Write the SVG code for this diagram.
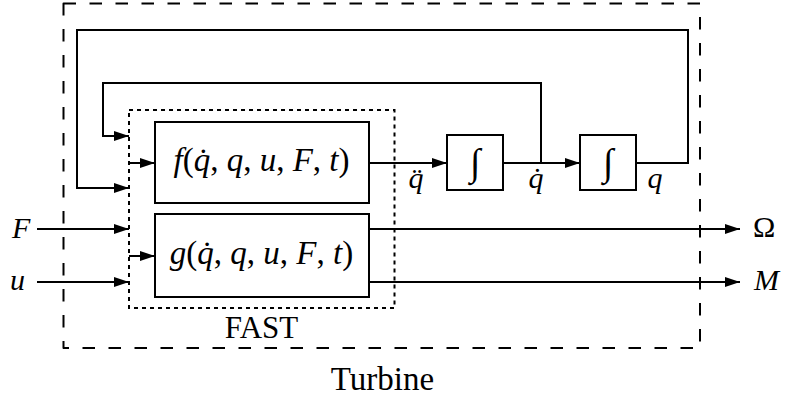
<svg xmlns="http://www.w3.org/2000/svg" width="787" height="399" viewBox="0 0 787 399">
<defs>
<marker id="arr" markerUnits="userSpaceOnUse" markerWidth="16" markerHeight="12" refX="15" refY="5" orient="auto">
<path d="M0,0 L15,5 L0,10 z" fill="#000" stroke="none"/>
</marker>
</defs>
<g fill="none" stroke="#000" stroke-width="2">
<rect id="turbine" x="63.5" y="3.5" width="636.5" height="344.5" stroke-dasharray="12.5 13.5" stroke-linejoin="round"/>
<rect id="fast" x="129" y="110" width="265.5" height="198" stroke-dasharray="4 4"/>
</g>
<g id="connectors" fill="none" stroke="#000" stroke-width="2" marker-end="url(#arr)">
<path d="M369,163 H447"/>
<path d="M503,163 H580"/>
<path d="M636,163 H688 V30 H77 V188 H129"/>
<path d="M541,163 V83 H103 V136 H129"/>
<path d="M129,163 H155"/>
<path d="M37,229 H129"/>
<path d="M37,282 H129"/>
<path d="M129,256 H155"/>
<path d="M369,229 H740"/>
<path d="M369,282 H740"/>
</g>
<g font-family="Liberation Serif" font-size="30" fill="#000">
<g id="f">
<rect x="155" y="122" width="214" height="81" fill="#fff" stroke="#000" stroke-width="2"/>
<text text-anchor="middle" font-size="33" x="261.5" y="171"><tspan font-style="italic">f</tspan>(<tspan font-style="italic">q̇</tspan>, <tspan font-style="italic">q</tspan>, <tspan font-style="italic">u</tspan>, <tspan font-style="italic">F</tspan>, <tspan font-style="italic">t</tspan>)</text>
</g>
<g id="g">
<rect x="155" y="214" width="214" height="83" fill="#fff" stroke="#000" stroke-width="2"/>
<text text-anchor="middle" font-size="33" x="261.5" y="264"><tspan font-style="italic">g</tspan>(<tspan font-style="italic">q̇</tspan>, <tspan font-style="italic">q</tspan>, <tspan font-style="italic">u</tspan>, <tspan font-style="italic">F</tspan>, <tspan font-style="italic">t</tspan>)</text>
</g>
<g id="int1">
<rect x="447" y="135" width="56" height="55" fill="#fff" stroke="#000" stroke-width="2"/>
<text text-anchor="middle" font-size="38" x="475" y="175">∫</text>
</g>
<g id="int2">
<rect x="580" y="135" width="56" height="55" fill="#fff" stroke="#000" stroke-width="2"/>
<text text-anchor="middle" font-size="38" x="608" y="175">∫</text>
</g>
<g id="labels">
<text text-anchor="middle" font-style="italic" x="416" y="188">q̈</text>
<text text-anchor="middle" font-style="italic" x="536" y="188">q̇</text>
<text text-anchor="middle" font-style="italic" x="655" y="188">q</text>
<text font-style="italic" x="12" y="238">F</text>
<text font-style="italic" x="10" y="290">u</text>
<text x="753" y="237">Ω</text>
<text font-style="italic" x="754" y="290">M</text>
<text text-anchor="middle" font-size="31" x="261.5" y="338">FAST</text>
<text text-anchor="middle" font-size="33" x="382.5" y="390">Turbine</text>
</g>
</g>
</svg>
